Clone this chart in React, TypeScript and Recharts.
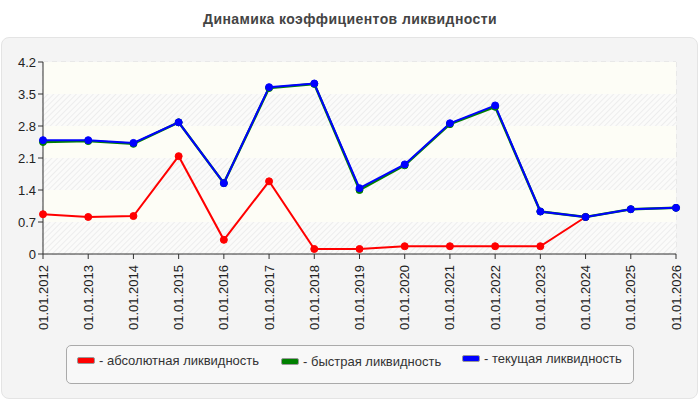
import React from 'react';
import { LineChart, Line, XAxis, YAxis, CartesianGrid, ReferenceArea } from 'recharts';

const dates = [
  '01.01.2012', '01.01.2013', '01.01.2014', '01.01.2015', '01.01.2016',
  '01.01.2017', '01.01.2018', '01.01.2019', '01.01.2020', '01.01.2021',
  '01.01.2022', '01.01.2023', '01.01.2024', '01.01.2025', '01.01.2026',
];
const absolute = [0.87, 0.81, 0.83, 2.14, 0.31, 1.59, 0.11, 0.11, 0.17, 0.17, 0.17, 0.17, 0.81, null, null];
const quick = [2.45, 2.47, 2.41, 2.88, 1.55, 3.63, 3.72, 1.4, 1.94, 2.84, 3.22, 0.93, 0.81, 0.98, 1.01];
const current = [2.49, 2.49, 2.43, 2.88, 1.55, 3.65, 3.73, 1.44, 1.96, 2.86, 3.25, 0.93, 0.81, 0.98, 1.01];
const yTicks = [0, 0.7, 1.4, 2.1, 2.8, 3.5, 4.2];
const hatchedBands: [number, number][] = [[0, 0.7], [1.4, 2.1], [2.8, 3.5]];
const plainBands: [number, number][] = [[0.7, 1.4], [2.1, 2.8], [3.5, 4.2]];

const legendItems = [
  { name: '- абсолютная ликвидность', color: '#ff0000', left: 10, top: 11 },
  { name: '- быстрая ликвидность', color: '#008000', left: 214, top: 12 },
  { name: '- текущая ликвидность', color: '#0000ff', left: 395, top: 9 },
];

const data = dates.map((d, i) => ({ date: d, abs: absolute[i], quick: quick[i], cur: current[i] }));

const font = '"Liberation Sans", Arial, sans-serif';

function DateTick(props: any) {
  const { x, y, payload } = props;
  return (
    <text
      x={x}
      y={y + 4}
      transform={`rotate(-90, ${x}, ${y + 4})`}
      textAnchor="end"
      dy="0.35em"
      fontSize={13}
      fill="#222"
      fontFamily={font}
    >
      {payload.value}
    </text>
  );
}

export default function App() {
  return (
    <div style={{ position: 'absolute', left: 0, top: 0, width: 700, height: 400, background: '#fff', fontFamily: font }}>
      <div style={{ position: 'absolute', left: 0, top: 11, width: 700, textAlign: 'center', fontSize: 14, letterSpacing: 0.4, fontWeight: 'bold', color: '#444' }}>
        Динамика коэффициентов ликвидности
      </div>
      <div
        style={{
          position: 'absolute', left: 1, top: 37, width: 695, height: 360,
          background: '#f4f4f4', border: '1px solid #e4e4e4', borderRadius: 8,
        }}
      />
      <div style={{ position: 'absolute', left: 0, top: 0 }}>
        <LineChart width={700} height={400} data={data} margin={{ top: 62, right: 24, left: 0, bottom: 0 }}>
          <defs>
            <pattern id="hatch" patternUnits="userSpaceOnUse" width="4" height="4" patternTransform="rotate(45)">
              <rect width="4" height="4" fill="#fbfbfa" />
              <line x1="0" y1="0" x2="0" y2="4" stroke="#ededed" strokeWidth="2" />
            </pattern>
          </defs>
          {plainBands.map(([a, b]) => (
            <ReferenceArea key={'p' + a} y1={a} y2={b} fill="#fdfdf6" fillOpacity={1} stroke="none" />
          ))}
          {hatchedBands.map(([a, b]) => (
            <ReferenceArea key={'h' + a} y1={a} y2={b} fill="url(#hatch)" fillOpacity={1} stroke="none" />
          ))}
          <CartesianGrid stroke="#dcdcdc" strokeDasharray="5 4" />
          <XAxis
            dataKey="date"
            height={146}
            interval={0}
            tick={<DateTick />}
            axisLine={{ stroke: '#333' }}
            tickLine={{ stroke: '#333' }}
            tickSize={5}
          />
          <YAxis
            width={43}
            domain={[0, 4.2]}
            ticks={yTicks}
            tickFormatter={(v: number) => String(v)}
            tick={{ fontSize: 13, fill: '#222', fontFamily: font }}
            axisLine={{ stroke: '#333' }}
            tickLine={{ stroke: '#333' }}
            tickSize={5}
          />
          <Line dataKey="abs" stroke="#ff0000" strokeWidth={2} dot={{ r: 3.5, fill: '#ff0000', stroke: '#ff0000', strokeWidth: 1 }} isAnimationActive={false} />
          <Line dataKey="quick" stroke="#008000" strokeWidth={2.5} dot={{ r: 3.5, fill: '#008000', stroke: '#008000', strokeWidth: 1 }} isAnimationActive={false} />
          <Line dataKey="cur" stroke="#0000ff" strokeWidth={2} dot={{ r: 3.5, fill: '#0000ff', stroke: '#0000ff', strokeWidth: 1 }} isAnimationActive={false} />
        </LineChart>
      </div>
      <div
        style={{
          position: 'absolute', left: 66, top: 345, width: 566, height: 37,
          border: '1px solid #aaa', borderRadius: 5, background: '#f8f8f8',
        }}
      >
        {legendItems.map((it) => (
          <div
            key={it.name}
            style={{
              position: 'absolute', left: it.left, top: it.top,
              height: 7, display: 'flex', alignItems: 'center', fontSize: 13, color: '#333', whiteSpace: 'nowrap',
            }}
          >
            <span style={{ display: 'inline-block', width: 16, height: 5, background: it.color, border: '1px solid #999', borderRadius: 2, marginRight: 4 }} />
            {it.name}
          </div>
        ))}
      </div>
    </div>
  );
}
